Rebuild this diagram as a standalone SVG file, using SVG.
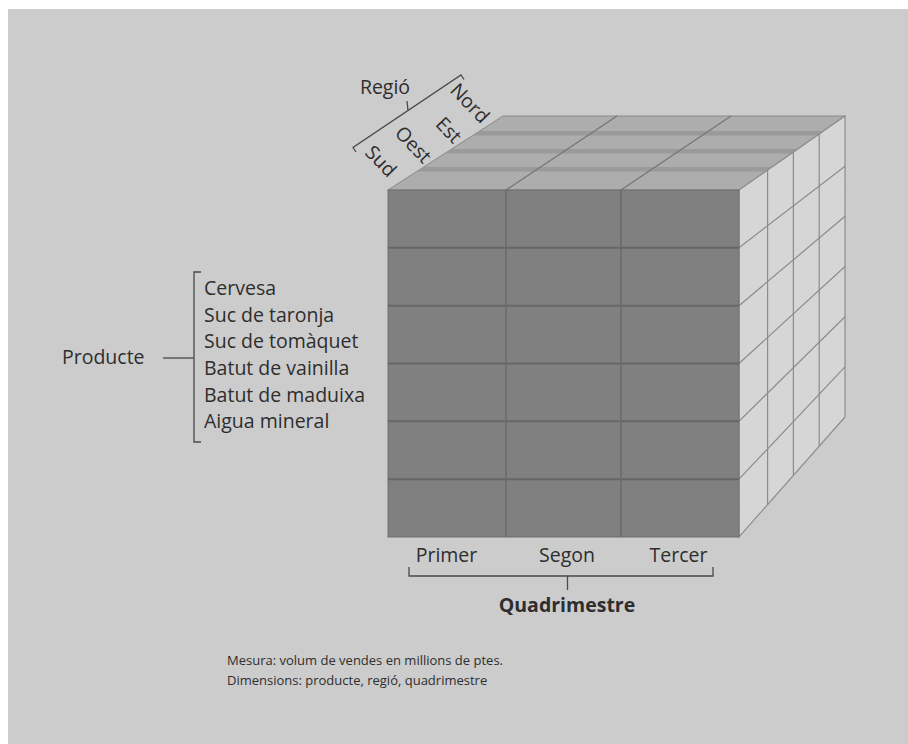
<svg xmlns="http://www.w3.org/2000/svg" width="908" height="744" viewBox="0 0 908 744">
  <defs>
    <style>
      .lbl { font-family: "Open Sans", "Noto Sans", "Liberation Sans", sans-serif; font-size: 19.5px; fill: #2e2e2e; }
      .bold { font-weight: bold; }
      .note { font-family: "Open Sans", "Noto Sans", "Liberation Sans", sans-serif; font-size: 13px; fill: #2e2e2e; }
      .brk { fill: none; stroke: #4a4a4a; stroke-width: 1.3; }
      .front { fill: #808080; stroke: #6e6e6e; stroke-width: 1; }
      .fline { stroke: #666666; stroke-width: 2; }
      .fcol { stroke: #6a6a6a; stroke-width: 1.5; }
      .top { fill: #adadad; stroke: #8a8a8a; stroke-width: 1; }
      .band { fill: #9a9a9a; }
      .tline { stroke: #767676; stroke-width: 1.3; }
      .side { fill: #d6d6d6; stroke: #8c8c8c; stroke-width: 1.2; }
      .sline { stroke: #8c8c8c; stroke-width: 1.2; }
    </style>
    <clipPath id="topClip">
      <polygon points="388,190 739,190 845,116 503,116"/>
    </clipPath>
  </defs>

  <!-- panel -->
  <rect x="0" y="0" width="908" height="744" fill="#ffffff"/>
  <rect x="8" y="9" width="900" height="735" fill="#cccccc"/>

  <!-- data cube -->
  <g id="cube">
    <g id="cube-top">
      <polygon class="top" points="388,190 739,190 845,116 503,116"/>
      <g clip-path="url(#topClip)">
        <rect class="band" x="380" y="131" width="470" height="4.5"/>
        <rect class="band" x="380" y="149" width="470" height="4.5"/>
        <rect class="band" x="380" y="167" width="470" height="4.5"/>
      </g>
      <line class="tline" x1="506" y1="190" x2="617" y2="116"/>
      <line class="tline" x1="621" y1="190" x2="731" y2="116"/>
    </g>
    <g id="cube-side">
      <polygon class="side" points="739,190 845,116 845,417 739,537"/>
      <line class="sline" x1="739" y1="247.8" x2="845" y2="166.2"/>
      <line class="sline" x1="739" y1="305.7" x2="845" y2="216.3"/>
      <line class="sline" x1="739" y1="363.5" x2="845" y2="266.5"/>
      <line class="sline" x1="739" y1="421.3" x2="845" y2="316.7"/>
      <line class="sline" x1="739" y1="479.2" x2="845" y2="366.8"/>
      <line class="sline" x1="767.6" y1="170" x2="767.6" y2="504.6"/>
      <line class="sline" x1="793.4" y1="152" x2="793.4" y2="475.4"/>
      <line class="sline" x1="819.2" y1="134" x2="819.2" y2="446.2"/>
    </g>
    <g id="cube-front">
      <rect class="front" x="388" y="190" width="351" height="347"/>
      <line class="fline" x1="388" y1="247.8" x2="739" y2="247.8"/>
      <line class="fline" x1="388" y1="305.7" x2="739" y2="305.7"/>
      <line class="fline" x1="388" y1="363.5" x2="739" y2="363.5"/>
      <line class="fline" x1="388" y1="421.3" x2="739" y2="421.3"/>
      <line class="fline" x1="388" y1="479.2" x2="739" y2="479.2"/>
      <line class="fcol" x1="506" y1="190" x2="506" y2="537"/>
      <line class="fcol" x1="621" y1="190" x2="621" y2="537"/>
    </g>
  </g>

  <!-- brackets linking each dimension name to its members -->
  <g id="connectors">
    <polyline class="brk" points="356,152 353,147.5 461,75 464,79.5"/>
    <line class="brk" x1="408" y1="110.5" x2="407" y2="101"/>
    <polyline class="brk" points="201,272 194,272 194,442 201,442"/>
    <line class="brk" x1="163" y1="358" x2="194" y2="358"/>
    <polyline class="brk" points="409,567 409,576 713,576 713,567"/>
    <line class="brk" x1="567.5" y1="576" x2="567.5" y2="590"/>
  </g>

  <g id="dim-regio">
    <text class="lbl" x="385" y="94" text-anchor="middle">Regió</text>
    <text class="lbl" text-anchor="middle" transform="translate(470,103) rotate(46)" y="7">Nord</text>
    <text class="lbl" text-anchor="middle" transform="translate(449,130) rotate(46)" y="7">Est</text>
    <text class="lbl" text-anchor="middle" transform="translate(413.5,144.5) rotate(46)" y="7">Oest</text>
    <text class="lbl" text-anchor="middle" transform="translate(381,161) rotate(46)" y="7">Sud</text>
  </g>

  <g id="dim-producte">
    <text class="lbl" x="62" y="364">Producte</text>
    <text class="lbl" x="204" y="295">Cervesa</text>
    <text class="lbl" x="204" y="321.7">Suc de taronja</text>
    <text class="lbl" x="204" y="348.3">Suc de tomàquet</text>
    <text class="lbl" x="204" y="375">Batut de vainilla</text>
    <text class="lbl" x="204" y="401.7">Batut de maduixa</text>
    <text class="lbl" x="204" y="428.3">Aigua mineral</text>
  </g>

  <g id="dim-quadrimestre">
    <text class="lbl" x="446.5" y="561.7" text-anchor="middle">Primer</text>
    <text class="lbl" x="567" y="561.7" text-anchor="middle">Segon</text>
    <text class="lbl" x="678.5" y="561.7" text-anchor="middle">Tercer</text>
    <text class="lbl bold" x="567" y="611.7" text-anchor="middle">Quadrimestre</text>
  </g>

  <g id="footnote">
    <text class="note" x="227" y="665">Mesura: volum de vendes en millions de ptes.</text>
    <text class="note" x="227" y="685">Dimensions: producte, regió, quadrimestre</text>
  </g>
</svg>
